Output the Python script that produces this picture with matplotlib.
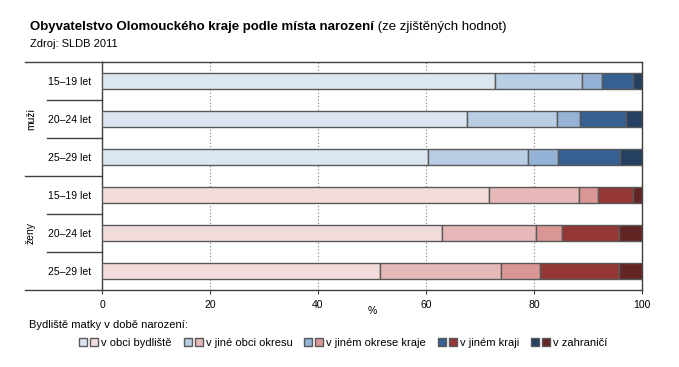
import matplotlib
matplotlib.use("Agg")
import matplotlib.pyplot as plt
from matplotlib.lines import Line2D
from matplotlib.patches import Patch
from matplotlib.legend_handler import HandlerTuple
import numpy as np

plt.rcParams['font.family'] = ['Liberation Sans', 'DejaVu Sans']

groups = ["muži", "ženy"]
ages = ["15–19 let", "20–24 let", "25–29 let"]
series = ["v obci bydliště", "v jiné obci okresu", "v jiném okrese kraje", "v jiném kraji", "v zahraničí"]

muzi_obec = [72.8, 67.5, 60.4]
muzi_okres = [16.0, 16.8, 18.5]
muzi_kraj = [3.7, 4.2, 5.6]
muzi_jiny_kraj = [5.9, 8.5, 11.5]
muzi_zahranici = [1.6, 3.0, 4.0]

zeny_obec = [71.6, 62.9, 51.4]
zeny_okres = [16.8, 17.5, 22.5]
zeny_kraj = [3.5, 4.8, 7.3]
zeny_jiny_kraj = [6.5, 10.6, 14.6]
zeny_zahranici = [1.6, 4.2, 4.2]

blue_colors = ["#dce6f1", "#b9cde5", "#95b3d7", "#376092", "#254061"]
red_colors = ["#f2dcdb", "#e6b9b8", "#d99694", "#953735", "#632523"]
edge = "#595959"
frame = "#404040"

fig = plt.figure(figsize=(6.79, 3.67), dpi=100)
L, R, T, B = 102 / 679, 642 / 679, 1 - 62 / 367, 1 - 290 / 367
ax = fig.add_axes([L, B, R - L, T - B])

muzi = [muzi_obec, muzi_okres, muzi_kraj, muzi_jiny_kraj, muzi_zahranici]
zeny = [zeny_obec, zeny_okres, zeny_kraj, zeny_jiny_kraj, zeny_zahranici]

y_m = np.arange(3)
y_z = np.arange(3) + 3
h = 0.4
left = np.zeros(3)
for vals, c in zip(muzi, blue_colors):
    ax.barh(y_m, vals, left=left, height=h, color=c, edgecolor=edge, linewidth=1, zorder=3)
    left += np.array(vals)
left = np.zeros(3)
for vals, c in zip(zeny, red_colors):
    ax.barh(y_z, vals, left=left, height=h, color=c, edgecolor=edge, linewidth=1, zorder=3)
    left += np.array(vals)

ax.set_xlim(0, 100)
ax.set_ylim(5.5, -0.5)
ax.set_xticks([0, 20, 40, 60, 80, 100])
ax.tick_params(axis='x', direction='out', length=3, color=frame, labelsize=7.5, pad=4)
ax.set_yticks(list(range(6)))
ax.set_yticklabels(ages + ages)
ax.tick_params(axis='y', length=0, labelsize=7.5, pad=8)
ax.xaxis.grid(True, color='#7f7f7f', linestyle=(0, (1, 2)), linewidth=0.8, zorder=0)
ax.set_axisbelow(True)
for s in ax.spines.values():
    s.set_color(frame)
    s.set_linewidth(1)

ax.set_xlabel("%", fontsize=7.5, labelpad=-3)

# label-area lines (extend to the left)
x_far = (25 - 102) / 540
x_near = (47 - 102) / 540
tr = ax.get_yaxis_transform()
for yy, x0 in [(-0.5, x_far), (5.5, x_far), (2.5, x_far), (0.5, x_near), (1.5, x_near), (3.5, x_near), (4.5, x_near)]:
    ax.add_line(Line2D([x0, 0], [yy, yy], transform=tr, color=frame, lw=1, clip_on=False))

# group labels
for gi, g in enumerate(groups):
    ax.text((31 - 102) / 540, 1 + 3 * gi, g, transform=tr, rotation=90, ha='center', va='center', fontsize=7.5)

# title
t1 = fig.text(30 / 679, 1 - 27 / 367, "Obyvatelstvo Olomouckého kraje podle místa narození",
              fontsize=9.5, fontweight='bold', ha='left', va='center')
ax.annotate(" (ze zjištěných hodnot)", xy=(1, 0), xycoords=t1, fontsize=9.5, ha='left', va='bottom',
            annotation_clip=False)
fig.text(30 / 679, 1 - 44 / 367, "Zdroj: SLDB 2011", fontsize=8, ha='left', va='center')

# legend
fig.text(29 / 679, 1 - 325 / 367, "Bydliště matky v době narození:", fontsize=8, ha='left', va='center')
handles = [(Patch(facecolor=b, edgecolor=edge, lw=1), Patch(facecolor=r, edgecolor=edge, lw=1))
           for b, r in zip(blue_colors, red_colors)]
fig.legend(handles, series, handler_map={tuple: HandlerTuple(ndivide=None, pad=0.27)},
           loc='center', bbox_to_anchor=(343.5 / 679, 1 - 343 / 367), ncol=5, frameon=False,
           fontsize=8, handlelength=1.7, handleheight=0.72, handletextpad=0.27, columnspacing=1.08,
           borderaxespad=0)

fig.savefig("out.png", dpi=100)
